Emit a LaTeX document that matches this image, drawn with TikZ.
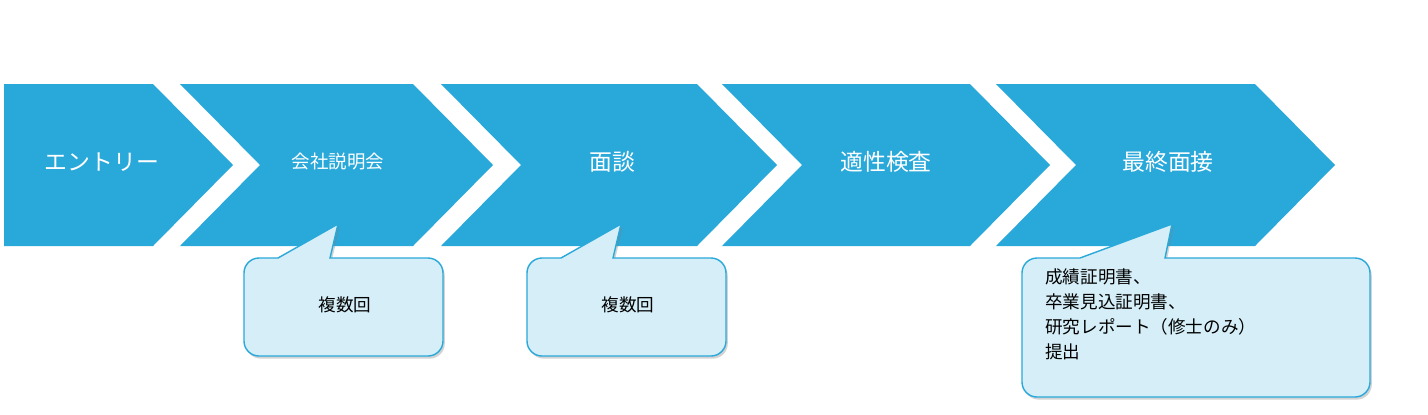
\documentclass[tikz,border=0pt]{standalone}
\usepackage{fontspec}
\setmainfont{Noto Sans CJK JP}
\usetikzlibrary{shadows}
\definecolor{stepblue}{HTML}{29A8DA}
\definecolor{notefill}{HTML}{D5EEF7}
\begin{document}
\begin{tikzpicture}[x=0.02cm, y=-0.02cm,
    chevron/.style={fill=stepblue, draw=none},
    steptext/.style={text=white, font=\fontsize{13}{15}\selectfont},
    callout/.style={fill=notefill, draw=stepblue, line width=0.8pt, drop shadow={shadow xshift=1pt, shadow yshift=-1.5pt, opacity=0.35}},
    notetext/.style={text=black, font=\fontsize{10}{12}\selectfont}]
    \useasboundingbox (0,0) rectangle (1428,414);
    % steps
    \fill[chevron] (4,84) -- (153,84) -- (233,165) -- (153,246) -- (4,246) -- cycle;
    \foreach \a/\b in {180/413, 441/697, 722/970, 996/1255}
        \fill[chevron] (\a,84) -- (\b,84) -- (\b+80,165) -- (\b,246) -- (\a,246) -- (\a+80,165) -- cycle;
    \node[steptext] at (102,162) (entry) {エントリー};
    \node[steptext, font=\fontsize{10.5}{12}\selectfont] at (338,162) (briefing) {会社説明会};
    \node[steptext] at (612,162) (interview) {面談};
    \node[steptext] at (886,162) (aptitude) {適性検査};
    \node[steptext] at (1168,162) (final) {最終面接};
    % callouts
    \draw[callout] (330,258) [rounded corners=0.3cm] -- (443,258) -- (443,356) -- (244,356) -- (244,258) [sharp corners] -- (278,258) -- (338,224) -- cycle;
    \node[notetext] at (345,305) (note1) {複数回};
    \draw[callout] (613,258) [rounded corners=0.3cm] -- (726,258) -- (726,356) -- (527,356) -- (527,258) [sharp corners] -- (561,258) -- (621,224) -- cycle;
    \node[notetext] at (628,305) (note2) {複数回};
    \draw[callout] (1165,258) [rounded corners=0.3cm] -- (1370,258) -- (1370,397) -- (1022,397) -- (1022,258) [sharp corners] -- (1080,258) -- (1172,224) -- cycle;
    \node[notetext, anchor=north west, align=left, inner sep=0pt, font=\fontsize{10}{14.2}\selectfont] at (1045,268) (note3) {成績証明書、\\卒業見込証明書、\\研究レポート（修士のみ）\\提出};
\end{tikzpicture}
\end{document}
